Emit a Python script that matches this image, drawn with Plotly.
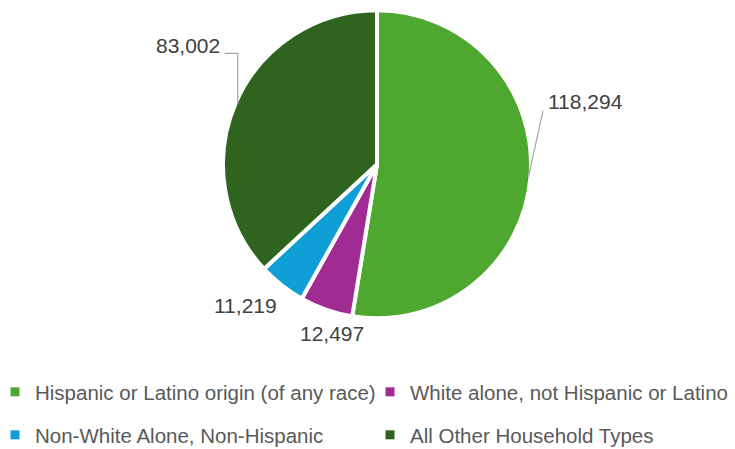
import math
import plotly.graph_objects as go

# ---- data ----
categories = [
    "Hispanic or Latino origin (of any race)",
    "White alone, not Hispanic or Latino",
    "Non-White Alone, Non-Hispanic",
    "All Other Household Types",
]
values = [118294, 12497, 11219, 83002]
colors = ["#4EA72E", "#A02B93", "#0F9ED5", "#2E641E"]

# ---- geometry / style (pixels) ----
W, H = 735, 449
CX, CY = 377, 164.3          # pie centre (px from left / top)
R_VIS = 152                  # visible radius
LINE_W = 4                   # white slice border
R = R_VIS + LINE_W / 2       # plotly radius

def px(x):
    return x / W

def py(y):
    return 1 - y / H

fig = go.Figure()
fig.add_trace(go.Pie(
    labels=categories,
    values=values,
    sort=False,
    direction="clockwise",
    rotation=0,
    marker=dict(colors=colors, line=dict(color="white", width=LINE_W)),
    textinfo="none",
    hoverinfo="label+value",
    showlegend=False,
    domain=dict(x=[px(CX - R), px(CX + R)], y=[py(CY + R), py(CY - R)]),
))

# mid-angle edge points of each slice, derived from the data
total = sum(values)
edges = []
cum = 0
for v in values:
    mid = (cum + v / 2) / total * 2 * math.pi
    edges.append((CX + R_VIS * math.sin(mid), CY - R_VIS * math.cos(mid)))
    cum += v

# label offsets from edge point (px) : text centre
label_off = [(56.5, -75), (5, 26), (-37.5, 22), (-50, -57.5)]
label_font = dict(family="Liberation Sans, Arial, sans-serif", size=21, color="#404040")
for (ex, ey), (dx, dy), v in zip(edges, label_off, values):
    fig.add_annotation(
        x=px(ex + dx), y=py(ey + dy), xref="paper", yref="paper",
        text=f"{v:,}", showarrow=False, font=label_font,
        xanchor="center", yanchor="middle",
    )

lead = dict(color="#A6A6A6", width=1.2)
# leader for slice 0 (straight)
ex, ey = edges[0]
fig.add_shape(type="line", xref="paper", yref="paper",
              x0=px(ex), y0=py(ey), x1=px(ex + 14.5), y1=py(ey - 66), line=lead)
# leader for slice 3 (elbow)
ex, ey = edges[3]
fig.add_shape(type="path", xref="paper", yref="paper",
              path=f"M {px(ex)},{py(ey)} L {px(ex)},{py(ey - 50)} L {px(ex - 13)},{py(ey - 50)}",
              line=lead)

# ---- legend (2 x 2 grid) ----
legend_names = ["legend", "legend2", "legend3", "legend4"]
legend_pos = [(-5, 392), (370, 392), (-5, 435), (370, 435)]
for cat, col, lg in zip(categories, colors, legend_names):
    fig.add_trace(go.Scatter(
        x=[None], y=[None], mode="markers", name=cat,
        marker=dict(symbol="square", size=9, color=col),
        legend=lg, showlegend=True, hoverinfo="skip",
    ))

legend_font = dict(family="Liberation Sans, Arial, sans-serif", size=20.5, color="#595959")
layout_leg = {}
for lg, (lx, ly) in zip(legend_names, legend_pos):
    layout_leg[lg] = dict(
        x=px(lx), y=py(ly), xanchor="left", yanchor="middle",
        orientation="h", bgcolor="rgba(0,0,0,0)", borderwidth=0,
        font=legend_font,
    )

fig.update_layout(
    width=W, height=H,
    margin=dict(l=0, r=0, t=0, b=0, autoexpand=False),
    paper_bgcolor="white", plot_bgcolor="white",
    xaxis=dict(visible=False), yaxis=dict(visible=False),
    **layout_leg,
)

fig.write_html(
    "out.html",
    config={"displayModeBar": False},
    post_script="document.body.style.margin='0';document.body.style.overflow='hidden';",
)
